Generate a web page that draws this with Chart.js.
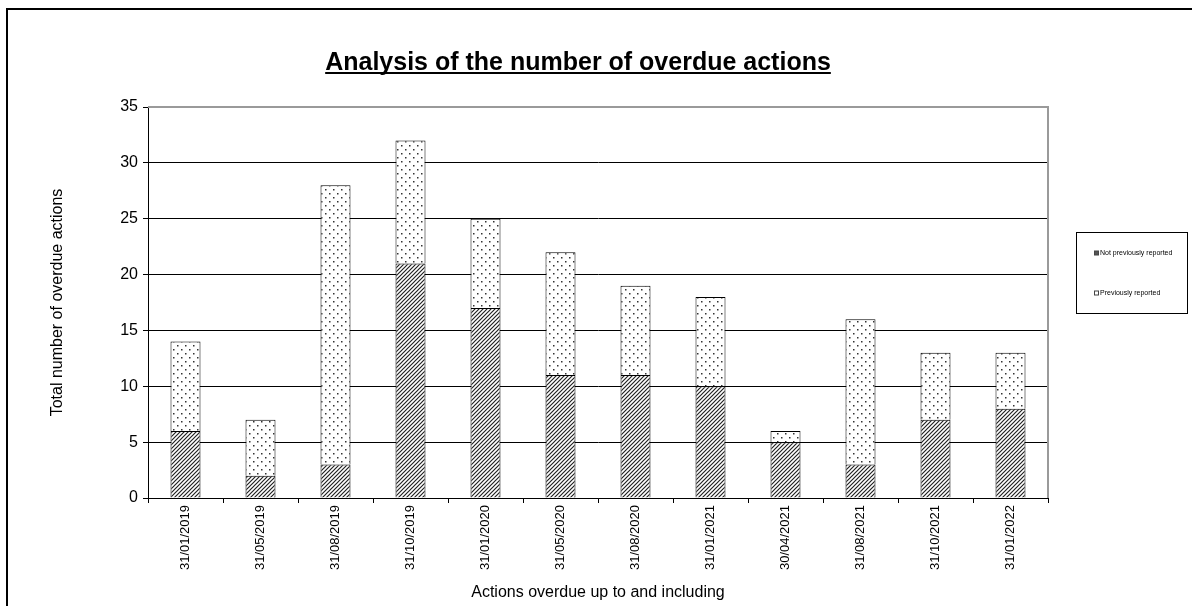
<!DOCTYPE html>
<html>
<head>
<meta charset="utf-8">
<script src="https://cdn.jsdelivr.net/npm/chart.js@4/dist/chart.umd.min.js"></script>
<style>
  html, body { margin: 0; padding: 0; background: #fff; }
  #wrap { position: relative; width: 1192px; height: 606px; }
</style>
</head>
<body>
<div id="wrap"><canvas id="chart" width="1192" height="606"></canvas></div>
<script>
// Reporting dates (x categories)
const categories = [
  '31/01/2019', '31/05/2019', '31/08/2019', '31/10/2019', '31/01/2020', '31/05/2020',
  '31/08/2020', '31/01/2021', '30/04/2021', '31/08/2021', '31/10/2021', '31/01/2022'
];
// Overdue actions not yet reported at the previous date
const notPreviouslyReported = [6, 2, 3, 21, 17, 11, 11, 10, 5, 3, 7, 8];
// Overdue actions already reported at an earlier date
const previouslyReported = [8, 5, 25, 11, 8, 11, 8, 8, 1, 13, 6, 5];
// Y axis range
const yTicks = { min: 0, max: 35, step: 5 };

const FONT = 'Arial, "Liberation Sans", sans-serif';

// Diagonal hatch fill
function makeHatch() {
  const c = document.createElement('canvas');
  c.width = 4; c.height = 4;
  const g = c.getContext('2d');
  g.fillStyle = '#fff'; g.fillRect(0, 0, 4, 4);
  g.strokeStyle = '#222'; g.lineWidth = 1.2;
  g.beginPath();
  g.moveTo(-1, 5); g.lineTo(5, -1);
  g.moveTo(-1, 1); g.lineTo(1, -1);
  g.moveTo(3, 5); g.lineTo(5, 3);
  g.stroke();
  return g.createPattern(c, 'repeat');
}
// Sparse dotted fill
function makeDots() {
  const c = document.createElement('canvas');
  c.width = 8; c.height = 8;
  const g = c.getContext('2d');
  g.fillStyle = '#fff'; g.fillRect(0, 0, 8, 8);
  g.fillStyle = '#333';
  g.fillRect(1, 1, 1.5, 1.5);
  g.fillRect(5, 5, 1.5, 1.5);
  return g.createPattern(c, 'repeat');
}
const hatch = makeHatch();
const dots = makeDots();

// Frame, plot border, title and legend box
const decorations = {
  id: 'decorations',
  beforeDraw(chart) {
    const ctx = chart.ctx;
    ctx.save();
    ctx.fillStyle = '#fff';
    ctx.fillRect(0, 0, chart.width, chart.height);
    ctx.fillStyle = '#000';
    ctx.fillRect(6, 8, chart.width - 6, 2);
    ctx.fillRect(6, 8, 2, chart.height - 8);
    ctx.restore();
  },
  afterDraw(chart) {
    const ctx = chart.ctx;
    const a = chart.chartArea;
    ctx.save();
    // plot area top/right border
    ctx.strokeStyle = '#9a9a9a';
    ctx.lineWidth = 2;
    ctx.beginPath();
    ctx.moveTo(a.left, a.top);
    ctx.lineTo(a.right, a.top);
    ctx.lineTo(a.right, a.bottom);
    ctx.stroke();

    // title, bold and underlined
    const title = 'Analysis of the number of overdue actions';
    ctx.font = 'bold 25px ' + FONT;
    ctx.fillStyle = '#000';
    ctx.textAlign = 'center';
    ctx.textBaseline = 'alphabetic';
    const tx = 578, ty = 70;
    ctx.fillText(title, tx, ty);
    const tw = ctx.measureText(title).width;
    ctx.fillRect(tx - tw / 2, ty + 2, tw, 2);

    // legend
    const lx = 1076, ly = 232, lw = 111, lh = 81;
    ctx.strokeStyle = '#000';
    ctx.lineWidth = 1;
    ctx.strokeRect(lx + 0.5, ly + 0.5, lw, lh);
    ctx.font = '7px ' + FONT;
    ctx.textAlign = 'left';
    ctx.textBaseline = 'middle';
    chart.data.datasets.forEach((ds, i) => {
      const y = ly + 21 + i * 40;
      ctx.fillStyle = '#444';
      ctx.fillRect(lx + 18, y - 2.5, 5, 5);
      ctx.fillStyle = ds.legendFill;
      ctx.fillRect(lx + 19, y - 1.5, 3, 3);
      ctx.fillStyle = '#000';
      ctx.fillText(ds.label, lx + 24, y + 0.5);
    });
    ctx.restore();
  }
};

new Chart(document.getElementById('chart'), {
  type: 'bar',
  data: {
    labels: categories,
    datasets: [
      {
        label: 'Not previously reported',
        data: notPreviouslyReported,
        backgroundColor: hatch,
        borderColor: '#000',
        borderWidth: 1,
        legendFill: '#555'
      },
      {
        label: 'Previously reported',
        data: previouslyReported,
        backgroundColor: dots,
        borderColor: '#000',
        borderWidth: 1,
        legendFill: '#fff'
      }
    ]
  },
  options: {
    responsive: false,
    animation: false,
    devicePixelRatio: 1,
    layout: { padding: { left: 44, right: 144, top: 107, bottom: 0 } },
    datasets: { bar: { barPercentage: 0.4, categoryPercentage: 1.0 } },
    plugins: {
      legend: { display: false },
      title: { display: false },
      tooltip: { enabled: false }
    },
    scales: {
      x: {
        stacked: true,
        afterFit(scale) { scale.height = 108; },
        grid: {
          offset: true,
          drawOnChartArea: false,
          drawTicks: true,
          tickLength: 5,
          color: '#000'
        },
        border: { color: '#000', width: 1 },
        ticks: {
          color: '#000',
          font: { family: FONT, size: 13 },
          minRotation: 90,
          maxRotation: 90,
          padding: 2,
          autoSkip: false
        },
        title: {
          display: true,
          text: 'Actions overdue up to and including',
          color: '#000',
          font: { family: FONT, size: 16 },
          padding: { top: 4, bottom: 4 }
        }
      },
      y: {
        stacked: true,
        min: yTicks.min,
        max: yTicks.max,
        afterFit(scale) { scale.width = 104; },
        grid: {
          color: ctx => (ctx.tick && ctx.tick.value === yTicks.max) ? 'rgba(0,0,0,0)' : '#000',
          lineWidth: 1,
          tickLength: 5,
          tickColor: '#000'
        },
        border: { color: '#000', width: 1 },
        ticks: {
          stepSize: yTicks.step,
          color: '#000',
          padding: 5,
          font: { family: FONT, size: 16 }
        },
        title: {
          display: true,
          text: 'Total number of overdue actions',
          color: '#000',
          font: { family: FONT, size: 16 },
          padding: { top: 4, bottom: 4 }
        }
      }
    }
  },
  plugins: [decorations]
});
</script>
</body>
</html>
